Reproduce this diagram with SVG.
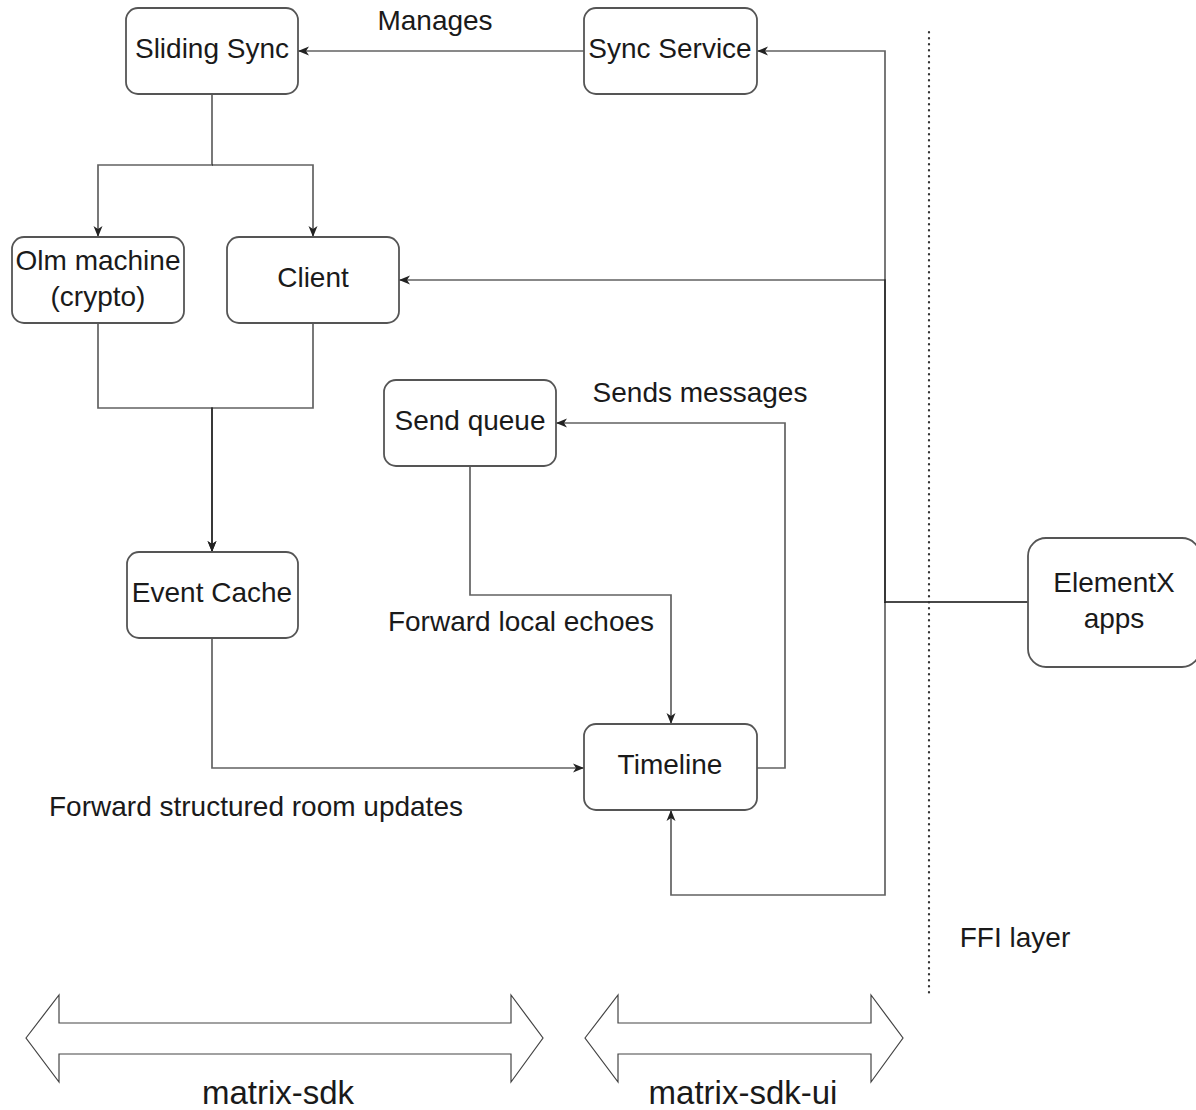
<svg xmlns="http://www.w3.org/2000/svg" width="1196" height="1110" viewBox="0 0 1196 1110">
<style>
.box{fill:#fff;stroke:#555;stroke-width:1.8}
.t{font-family:"Liberation Sans",Arial,sans-serif;font-size:28px;fill:#1a1a1a;text-anchor:middle;dominant-baseline:central}
.e{fill:none;stroke:#000;stroke-opacity:0.62;stroke-width:1.7}
.big{font-family:"Liberation Sans",Arial,sans-serif;font-size:33px;fill:#1a1a1a;text-anchor:middle}
.da{fill:#fff;stroke:#444;stroke-width:1.2}
</style>
<defs>
<marker id="arr" markerUnits="userSpaceOnUse" markerWidth="14" markerHeight="14" refX="11" refY="5" orient="auto">
<path d="M0,0.5 L11,5 L0,9.5 L3,5 Z" fill="#222"/>
</marker>
</defs>
<rect width="1196" height="1110" fill="#fff"/>

<g id="connectors">
<path class="e" d="M584,51 L298,51" marker-end="url(#arr)"/>
<path class="e" d="M212,94 L212,165 L98,165 L98,237" marker-end="url(#arr)"/>
<path class="e" d="M212,165 L313,165 L313,237" marker-end="url(#arr)"/>
<path class="e" d="M98,323 L98,408 L212,408 L212,552" marker-end="url(#arr)"/>
<path class="e" d="M313,323 L313,408 L212,408 L212,552" marker-end="url(#arr)"/>
<path class="e" d="M212,638 L212,768 L584,768" marker-end="url(#arr)"/>
<path class="e" d="M470,467 L470,595 L671,595 L671,724" marker-end="url(#arr)"/>
<path class="e" d="M757,768 L785,768 L785,423 L556,423" marker-end="url(#arr)"/>
<path class="e" d="M1028,602 L885,602 L885,51 L757,51" marker-end="url(#arr)"/>
<path class="e" d="M1028,602 L885,602 L885,280 L399,280" marker-end="url(#arr)"/>
<path class="e" d="M885,602 L885,895 L671,895 L671,810" marker-end="url(#arr)"/>
<path d="M929,32 L929,997" fill="none" stroke="#333" stroke-width="2.2" stroke-dasharray="0.5 5.5" stroke-linecap="round"/>
</g>

<g id="labels">
<text class="t" x="435" y="20">Manages</text>
<text class="t" x="700" y="392">Sends messages</text>
<text class="t" x="521" y="621">Forward local echoes</text>
<text class="t" x="256" y="806">Forward structured room updates</text>
<text class="t" x="1015" y="937">FFI layer</text>
</g>

<g id="sliding-sync">
<rect class="box" x="126" y="8" width="172" height="86" rx="12"/>
<text class="t" x="212" y="48">Sliding Sync</text>
</g>
<g id="sync-service">
<rect class="box" x="584" y="8" width="173" height="86" rx="12"/>
<text class="t" x="670" y="48">Sync Service</text>
</g>
<g id="olm-machine">
<rect class="box" x="12" y="237" width="172" height="86" rx="12"/>
<text class="t" x="98" y="260">Olm machine</text>
<text class="t" x="98" y="296">(crypto)</text>
</g>
<g id="client">
<rect class="box" x="227" y="237" width="172" height="86" rx="12"/>
<text class="t" x="313" y="277">Client</text>
</g>
<g id="send-queue">
<rect class="box" x="384" y="380" width="172" height="86" rx="12"/>
<text class="t" x="470" y="420">Send queue</text>
</g>
<g id="event-cache">
<rect class="box" x="127" y="552" width="171" height="86" rx="12"/>
<text class="t" x="212" y="592">Event Cache</text>
</g>
<g id="timeline">
<rect class="box" x="584" y="724" width="173" height="86" rx="12"/>
<text class="t" x="670" y="764">Timeline</text>
</g>
<g id="elementx-apps">
<rect class="box" x="1028" y="538" width="172" height="129" rx="18"/>
<text class="t" x="1114" y="582">ElementX</text>
<text class="t" x="1114" y="618">apps</text>
</g>

<g id="matrix-sdk">
<path class="da" d="M26,1038 L59,995 L59,1023 L511,1023 L511,995 L543,1038 L511,1082 L511,1054 L59,1054 L59,1082 Z"/>
<text class="big" x="278" y="1104">matrix-sdk</text>
</g>
<g id="matrix-sdk-ui">
<path class="da" d="M585,1038 L618,995 L618,1023 L871,1023 L871,995 L903,1038 L871,1082 L871,1054 L618,1054 L618,1082 Z"/>
<text class="big" x="743" y="1104">matrix-sdk-ui</text>
</g>
</svg>
